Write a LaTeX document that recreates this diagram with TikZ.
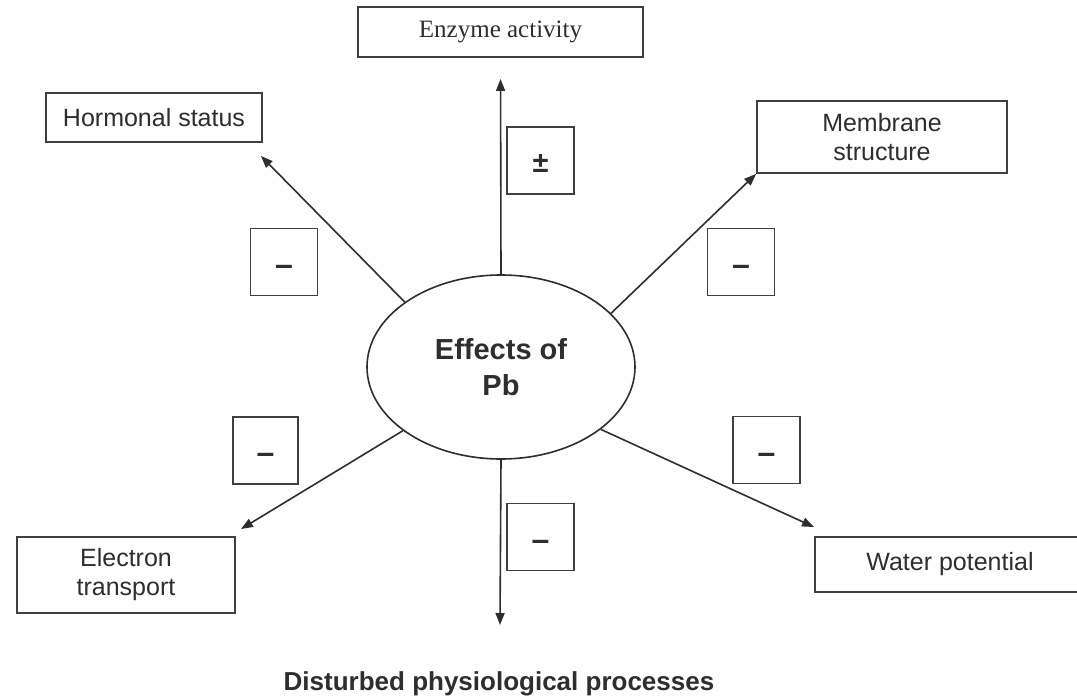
\documentclass[tikz,border=0pt]{standalone}
\usepackage{fontspec}
\setmainfont{Liberation Sans}
\newfontfamily\serifrm{Liberation Serif}
\usetikzlibrary{shapes.geometric,arrows.meta,calc}
\definecolor{ink}{HTML}{2E2E2E}
\definecolor{edge}{HTML}{404040}
\newcommand{\minussign}{\raisebox{-13pt}[0pt][0pt]{–}}
\tikzset{
  labelbox/.style={draw=edge, line width=1.9pt, fill=white, inner sep=0pt, align=center,
    font=\fontsize{25}{29}\selectfont, text=ink},
  signbox/.style={draw=edge, line width=1.7pt, fill=white, inner sep=0pt,
    text height=0pt, text depth=0pt,
    minimum width=67pt, minimum height=67pt, font=\bfseries\fontsize{32}{34}\selectfont, text=ink},
  conn/.style={draw=ink, line width=1.6pt, -{Triangle[length=12pt,width=9pt]}},
}
\begin{document}
\begin{tikzpicture}[x=1pt,y=-1pt]
\clip (0,0) rectangle (1077,698);
\fill[white] (0,0) rectangle (1077,698);

% centre
\node[ellipse, draw=ink, line width=1.6pt, minimum width=268pt, minimum height=184pt, inner sep=0pt,
  align=center, font=\bfseries\fontsize{29}{36}\selectfont, text=ink] (pb) at (501,367) {Effects of\\Pb};

% targets
\node[labelbox, minimum width=285pt, minimum height=50pt, font=\serifrm\fontsize{25}{29}\selectfont] (enz) at (500.5,32) {Enzyme activity};
\node[labelbox, minimum width=216pt, minimum height=49pt] (hor) at (154,117.5) {Hormonal status};
\node[labelbox, minimum width=250pt, minimum height=72pt] (mem) at (882,137) {Membrane\\structure};
\node[labelbox, minimum width=218pt, minimum height=76pt] (ele) at (126,575) {Electron\\transport};
\node[labelbox, minimum width=270pt, minimum height=55pt] (wat) at (950,564.5) {Water potential};
\node[font=\bfseries\fontsize{26}{30}\selectfont, text=ink] (dis) at (499,684) {Disturbed physiological processes};
\coordinate (disEnd) at (500,625);

% signs
\node[signbox, font=\bfseries\fontsize{29}{30}\selectfont] (sPm) at (540.5,160.5) {\raisebox{-12pt}[0pt][0pt]{±}};
\node[signbox] (sHor) at (284,262) {\minussign};
\node[signbox] (sMem) at (741,262) {\minussign};
\node[signbox, minimum width=65pt] (sEle) at (265.5,450.5) {\minussign};
\node[signbox] (sDis) at (540.5,537) {\minussign};
\node[signbox] (sWat) at (766.5,450) {\minussign};

% connectors
\draw[conn, shorten >=21pt] (pb.north) -- (enz.south);
\draw[conn] (pb.146) -- ($(hor.south east)+(-2,13)$);
\draw[conn] (pb.26.4) -- (mem.south west);
\draw[conn] (pb.213.3) -- ($(ele.north east)+(5,-7)$);
\draw[conn] (pb.-32) -- ($(wat.north west)+(0,-9)$);
\draw[conn] (pb.south) -- (disEnd);
\end{tikzpicture}
\end{document}
